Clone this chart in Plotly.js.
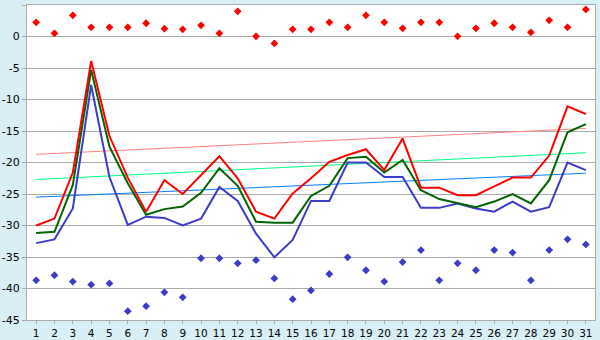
<!DOCTYPE html>
<html>
<head>
<meta charset="utf-8">
<script src="https://cdn.plot.ly/plotly-3.0.1.min.js"></script>
<style>
  html, body { margin: 0; padding: 0; background: #d9eff6; }
  #chart { width: 600px; height: 340px; }
</style>
</head>
<body>
<div id="chart"></div>
<script>
const days = [1,2,3,4,5,6,7,8,9,10,11,12,13,14,15,16,17,18,19,20,21,22,23,24,25,26,27,28,29,30,31];
const maxVals  = [-30.0,-28.9,-21.6,-3.9,-15.8,-22.4,-27.8,-22.8,-25.0,-22.0,-19.0,-22.5,-27.8,-28.9,-24.9,-22.5,-19.9,-18.8,-17.9,-21.2,-16.2,-24.0,-24.0,-25.2,-25.2,-23.8,-22.4,-22.4,-18.9,-11.1,-12.3];
const meanVals = [-31.2,-31.0,-23.6,-5.3,-17.5,-23.3,-28.3,-27.4,-27.0,-24.8,-20.9,-23.7,-29.4,-29.55,-29.55,-25.3,-23.7,-19.3,-19.1,-21.6,-19.6,-24.4,-25.8,-26.4,-27.1,-26.2,-25.0,-26.5,-22.8,-15.2,-13.9];
const minVals  = [-32.8,-32.2,-27.3,-7.7,-22.3,-29.9,-28.6,-28.8,-30.0,-28.9,-23.9,-26.1,-31.3,-35.05,-32.3,-26.1,-26.1,-20.0,-20.0,-22.3,-22.3,-27.2,-27.2,-26.5,-27.3,-27.8,-26.2,-27.8,-27.1,-20.0,-21.2];
const highDots = [2.25,0.5,3.36,1.46,1.46,1.46,2.1,1.24,1.14,1.77,0.5,4.0,0.03,-1.1,1.14,1.14,2.25,1.46,3.36,2.25,1.3,2.25,2.25,0.03,1.3,2.1,1.46,0.67,2.57,1.46,4.3];
const lowDots  = [-38.7,-37.9,-38.9,-39.4,-39.2,-43.6,-42.8,-40.6,-41.4,-35.2,-35.2,-36.0,-35.5,-38.4,-41.7,-40.3,-37.7,-35.05,-37.1,-38.9,-35.8,-33.9,-38.7,-36.0,-37.1,-33.9,-34.3,-38.7,-33.9,-32.2,-33.0];
const trendDays = [1, 31];
const maxTrend  = [-18.7, -14.6];
const meanTrend = [-22.7, -18.45];
const minTrend  = [-25.5, -21.7];
const yTicks = [5,0,-5,-10,-15,-20,-25,-30,-35,-40,-45];

const traces = [
  {x: trendDays, y: maxTrend, mode: 'lines', line: {color: '#ff8080', width: 1}},
  {x: trendDays, y: meanTrend, mode: 'lines', line: {color: '#00ff80', width: 1}},
  {x: trendDays, y: minTrend, mode: 'lines', line: {color: '#0080ff', width: 1}},
  {x: days, y: minVals, mode: 'lines', line: {color: '#3c3cc8', width: 2}},
  {x: days, y: meanVals, mode: 'lines', line: {color: '#006400', width: 2}},
  {x: days, y: maxVals, mode: 'lines', line: {color: '#ff0000', width: 2}},
  {x: days, y: highDots, mode: 'markers', marker: {color: '#ff0000', symbol: 'diamond', size: 6}},
  {x: days, y: lowDots, mode: 'markers', marker: {color: '#3c3cc8', symbol: 'diamond', size: 6}}
];

const layout = {
  width: 600, height: 340,
  margin: {l: 27, r: 5, t: 5, b: 20, pad: 0},
  paper_bgcolor: '#d9eff6',
  plot_bgcolor: '#ffffff',
  showlegend: false,
  font: {family: 'DejaVu Sans, Verdana, sans-serif', size: 11, color: '#000000'},
  xaxis: {
    range: [0.5, 31.5], tickmode: 'array', tickvals: days, ticktext: days.map(String),
    showgrid: false, zeroline: false, showline: true, linecolor: '#aaaaaa', linewidth: 1, mirror: true,
    ticks: 'outside', ticklen: 3, tickcolor: '#aaaaaa', ticklabelstandoff: 0,
    tickfont: {size: 10.5}, fixedrange: true
  },
  yaxis: {
    range: [-45, 5], tickmode: 'array', tickvals: yTicks, ticktext: yTicks.map(String),
    showgrid: true, gridcolor: '#aaaaaa', gridwidth: 1, zeroline: false,
    showline: true, linecolor: '#aaaaaa', linewidth: 1, mirror: true,
    ticks: 'outside', ticklen: 4, tickcolor: '#aaaaaa', fixedrange: true
  }
};

Plotly.newPlot('chart', traces, layout, {displayModeBar: false, staticPlot: true});
</script>
</body>
</html>
